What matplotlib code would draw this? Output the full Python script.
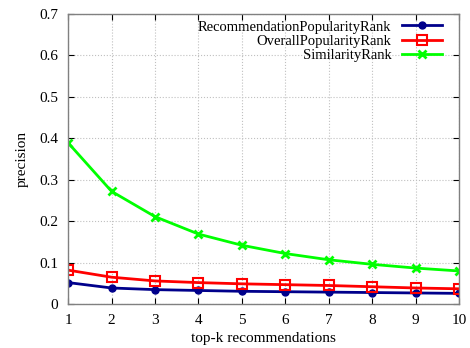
import matplotlib
matplotlib.use('Agg')
import matplotlib.pyplot as plt

plt.rcParams['font.family'] = ['Liberation Serif', 'DejaVu Serif']
plt.rcParams['font.size'] = 10

k = [1, 2, 3, 4, 5, 6, 7, 8, 9, 10]
rec_pop = [0.052, 0.039, 0.035, 0.033, 0.031, 0.030, 0.029, 0.028, 0.027, 0.026]
overall_pop = [0.082, 0.065, 0.056, 0.052, 0.049, 0.047, 0.045, 0.042, 0.039, 0.037]
similarity = [0.389, 0.272, 0.211, 0.169, 0.142, 0.122, 0.107, 0.096, 0.087, 0.080]

fig = plt.figure(figsize=(4.7, 3.48), dpi=100)
ax = fig.add_axes([0.145, 0.126, 0.832, 0.834])

ax.plot(k, rec_pop, color='#00008b', lw=2, marker='o', markersize=5,
        label='RecommendationPopularityRank')
ax.plot(k, overall_pop, color='#ff0000', lw=2, marker='s', markersize=7,
        markerfacecolor='none', markeredgewidth=1.5, label='OverallPopularityRank')
ax.plot(k, similarity, color='#00ff00', lw=2, marker='x', markersize=6,
        markeredgewidth=2, label='SimilarityRank')

ax.set_xlim(1, 10)
ax.set_ylim(0, 0.7)
ax.set_xticks(k)
ax.set_yticks([0, 0.1, 0.2, 0.3, 0.4, 0.5, 0.6, 0.7])
ax.set_yticklabels(['0', '0.1', '0.2', '0.3', '0.4', '0.5', '0.6', '0.7'])
ax.tick_params(direction='in', top=True, right=True, length=4, pad=7, labelsize=11)
ax.grid(True, linestyle=':', color='#c0c0c0', lw=0.8)
for s in ax.spines.values():
    s.set_color('#808080')
    s.set_linewidth(1)

ax.set_xlabel('top-k recommendations', fontsize=11, labelpad=4)
ax.set_ylabel('precision', fontsize=11, labelpad=8)

ax.legend(loc='upper right', bbox_to_anchor=(0.957, 0.978), markerfirst=False,
          frameon=False, fontsize=10.5, handlelength=2.8, labelspacing=0.08,
          borderaxespad=0, borderpad=0, handletextpad=0.7)

fig.savefig('out.png', dpi=100)
